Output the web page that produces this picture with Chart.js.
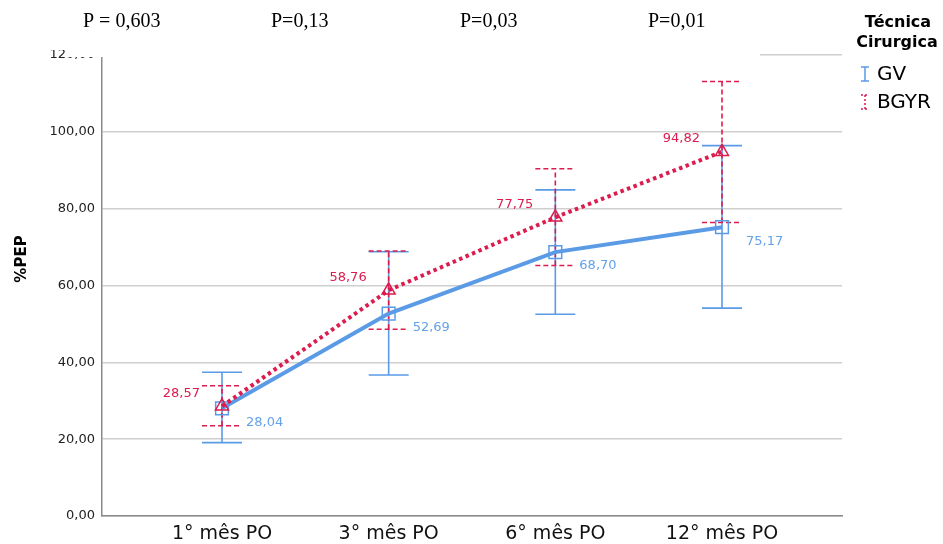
<!DOCTYPE html>
<html>
<head>
<meta charset="utf-8">
<script src="https://cdn.jsdelivr.net/npm/chart.js@4.4.1/dist/chart.umd.min.js"></script>
<style>
  html, body { margin: 0; padding: 0; background: #fff; }
  #wrap { width: 943px; height: 544px; position: relative; }
</style>
</head>
<body>
<div id="wrap"><canvas id="c"></canvas></div>
<script>
// ---- data ----
const categories = ['1° mês PO', '3° mês PO', '6° mês PO', '12° mês PO'];
const seriesNames = ['GV', 'BGYR'];
const gvMean = [28.04, 52.69, 68.70, 75.17];
const gvLow = [19.1, 36.7, 52.5, 54.1];
const gvHigh = [37.4, 68.8, 84.9, 96.4];
const bgyrMean = [28.57, 58.76, 77.75, 94.82];
const bgyrLow = [23.5, 48.6, 65.2, 76.4];
const bgyrHigh = [33.9, 69.0, 90.4, 113.1];
const pValues = ['P = 0,603', 'P=0,13', 'P=0,03', 'P=0,01'];
const yTicks = [0, 20, 40, 60, 80, 100, 120];
const legendTitle = ['Técnica', 'Cirurgica'];
const yTitle = '%PEP';

const BLUE = '#5b9be6';
const RED = '#dc1c4e';
const fmt = v => v.toFixed(2).replace('.', ',');

const errorBars = {
  id: 'errorBars',
  beforeDatasetsDraw(chart) {
    const { ctx, scales: { x, y } } = chart;
    const sets = [
      { lo: gvLow, hi: gvHigh, color: BLUE, dash: [] },
      { lo: bgyrLow, hi: bgyrHigh, color: RED, dash: [5, 3] }
    ];
    ctx.save();
    sets.forEach(s => {
      ctx.strokeStyle = s.color;
      ctx.lineWidth = 1.6;
      ctx.setLineDash(s.dash);
      s.lo.forEach((lo, i) => {
        const px = x.getPixelForValue(i);
        const y1 = y.getPixelForValue(lo);
        const y2 = y.getPixelForValue(s.hi[i]);
        ctx.beginPath();
        ctx.moveTo(px, y1); ctx.lineTo(px, y2);
        ctx.moveTo(px - 20, y1); ctx.lineTo(px + 20, y1);
        ctx.moveTo(px - 20, y2); ctx.lineTo(px + 20, y2);
        ctx.stroke();
      });
    });
    ctx.restore();
  },
  afterDatasetsDraw(chart) {
    const { ctx, scales: { x, y } } = chart;
    ctx.save();
    ctx.font = '13px "DejaVu Sans"';
    ctx.textBaseline = 'middle';
    bgyrMean.forEach((v, i) => {
      ctx.fillStyle = RED;
      ctx.textAlign = 'right';
      ctx.fillText(fmt(v), x.getPixelForValue(i) - 22, y.getPixelForValue(v) - 13);
    });
    gvMean.forEach((v, i) => {
      ctx.fillStyle = '#64a2ea';
      ctx.textAlign = 'left';
      ctx.fillText(fmt(v), x.getPixelForValue(i) + 24, y.getPixelForValue(v) + 14);
    });
    ctx.restore();
  },
  afterDraw(chart) {
    const { ctx } = chart;
    ctx.save();
    // white band over the top
    ctx.fillStyle = '#fff';
    ctx.fillRect(66, 0, 694, 57);
    ctx.fillRect(0, 0, 66, 50);
    // p-values
    ctx.fillStyle = '#000';
    ctx.font = '20px "Liberation Serif"';
    ctx.textAlign = 'left';
    ctx.textBaseline = 'middle';
    const pLeft = [83, 271, 460, 648];
    pValues.forEach((t, i) => ctx.fillText(t, pLeft[i], 22));
    // y title
    ctx.save();
    ctx.translate(22, 259);
    ctx.rotate(-Math.PI / 2);
    ctx.font = 'bold 15px "DejaVu Sans"';
    ctx.textAlign = 'center';
    ctx.fillStyle = '#000';
    ctx.fillText(yTitle, 0, 0);
    ctx.restore();
    // legend
    ctx.font = 'bold 16px "DejaVu Sans"';
    ctx.textAlign = 'center';
    ctx.fillStyle = '#000';
    ctx.fillText(legendTitle[0], 898, 23);
    ctx.fillText(legendTitle[1], 897, 43);
    ctx.font = '20px "DejaVu Sans"';
    ctx.textAlign = 'left';
    const colors = [BLUE, RED];
    const dashes = [[], [2, 2]];
    [74, 102].forEach((ly, i) => {
      ctx.strokeStyle = colors[i];
      ctx.lineWidth = 1.5;
      ctx.setLineDash(dashes[i]);
      ctx.beginPath();
      ctx.moveTo(865, ly - 7); ctx.lineTo(865, ly + 7);
      ctx.moveTo(861, ly - 7); ctx.lineTo(869, ly - 7);
      ctx.moveTo(861, ly + 7); ctx.lineTo(869, ly + 7);
      ctx.stroke();
      ctx.setLineDash([]);
      ctx.fillStyle = '#000';
      ctx.fillText(seriesNames[i], 877, ly + 1);
    });
    ctx.restore();
  }
};

new Chart(document.getElementById('c'), {
  type: 'line',
  data: {
    datasets: [
      {
        label: seriesNames[0],
        data: gvMean.map((v, i) => ({ x: i, y: v })),
        borderColor: BLUE,
        borderWidth: 4,
        pointStyle: 'rect',
        pointRadius: 9,
        pointBorderWidth: 1.5,
        pointBackgroundColor: 'rgba(0,0,0,0)',
        pointBorderColor: BLUE,
        tension: 0,
        order: 2
      },
      {
        label: seriesNames[1],
        data: bgyrMean.map((v, i) => ({ x: i, y: v })),
        borderColor: RED,
        borderWidth: 4,
        borderDash: [3.5, 3.5],
        pointStyle: 'triangle',
        pointRadius: 7.5,
        pointBorderWidth: 1.5,
        pointBackgroundColor: 'rgba(0,0,0,0)',
        pointBorderColor: RED,
        tension: 0,
        order: 1
      }
    ]
  },
  options: {
    responsive: true,
    maintainAspectRatio: false,
    animation: false,
    layout: { padding: { left: 0, right: 101, top: 55, bottom: 0 } },
    plugins: { legend: { display: false }, tooltip: { enabled: false } },
    scales: {
      x: {
        type: 'linear',
        min: -0.72,
        max: 3.72,
        afterBuildTicks: s => { s.ticks = categories.map((c, i) => ({ value: i })); },
        afterFit: s => { s.height = 28; },
        grid: { display: false, drawTicks: false },
        border: { color: '#8a8a8a', width: 1.5 },
        ticks: {
          callback: v => categories[v],
          color: '#111',
          font: { family: 'DejaVu Sans', size: 19 },
          padding: 7,
          maxRotation: 0,
          autoSkip: false
        }
      },
      y: {
        min: 0,
        max: 120,
        afterBuildTicks: s => { s.ticks = yTicks.map(v => ({ value: v })); },
        afterFit: s => { s.width = 102; },
        grid: { color: '#cfcfcf', lineWidth: 1.5, drawTicks: false },
        border: { color: '#8a8a8a', width: 1.5 },
        ticks: {
          callback: v => fmt(v),
          color: '#222',
          font: { family: 'DejaVu Sans', size: 13 },
          padding: 7
        }
      }
    }
  },
  plugins: [errorBars]
});
</script>
</body>
</html>
